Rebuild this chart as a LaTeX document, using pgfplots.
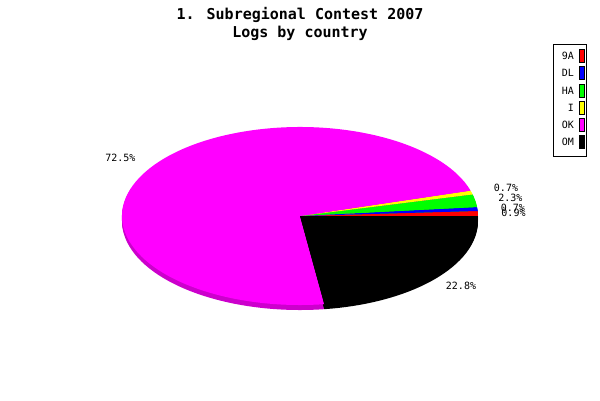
\documentclass[border=0pt]{standalone}
\usepackage{pgfplots}
\pgfplotsset{compat=1.18}
\usepackage{pgfplotstable}
\usepackage{fontspec}
\setmainfont{DejaVu Sans Mono}

\definecolor{c9A}{RGB}{255,0,0}
\definecolor{cDL}{RGB}{0,0,255}
\definecolor{cHA}{RGB}{0,255,0}
\definecolor{cI}{RGB}{255,255,0}
\definecolor{cOK}{RGB}{255,0,255}
\definecolor{cOM}{RGB}{0,0,0}

% logs per country, percent
\pgfplotstableread{
name pct col
9A   0.9  c9A
DL   0.7  cDL
HA   2.3  cHA
I    0.7  cI
OK   72.5 cOK
OM   22.8 cOM
}\logs

\begin{document}
\begin{tikzpicture}
\begin{axis}[
    hide axis,
    scale only axis,
    width=600pt, height=400pt,
    xmin=0, xmax=600, ymin=0, ymax=400,
    y dir=reverse,
    clip=false,
]
    \path (axis cs:0,0) rectangle (axis cs:600,400);
    % title
    \node[font=\bfseries\fontsize{15}{18}\selectfont] at (axis cs:300,15) {1. Subregional Contest 2007};
    \node[font=\bfseries\fontsize{15}{18}\selectfont] at (axis cs:300,33) {Logs by country};

    % shadow of the pie
    \gdef\cum{0}
    \foreach \r in {0,...,5} {
        \pgfplotstablegetelem{\r}{pct}\of\logs \let\p\pgfplotsretval
        \pgfplotstablegetelem{\r}{col}\of\logs \let\col\pgfplotsretval
        \pgfmathsetmacro\sa{\cum/99.9*360}
        \pgfmathsetmacro\sb{(\cum+\p)/99.9*360}
        \foreach \d in {1,...,5} {
            \edef\temp{\noexpand\fill[\col!80!black] (axis cs:300,216) ++(0,-\d pt) -- ++(\sa:178pt and 89pt)
                arc[start angle=\sa, end angle=\sb, x radius=178pt, y radius=89pt] -- cycle;}
            \temp
        }
        \pgfmathsetmacro\nc{\cum+\p}\xdef\cum{\nc}
    }

    % top face, labels and legend
    \gdef\cum{0}
    \foreach \r in {0,...,5} {
        \pgfplotstablegetelem{\r}{pct}\of\logs \let\p\pgfplotsretval
        \pgfplotstablegetelem{\r}{col}\of\logs \let\col\pgfplotsretval
        \pgfplotstablegetelem{\r}{name}\of\logs \let\nm\pgfplotsretval
        \pgfmathsetmacro\sa{\cum/99.9*360}
        \pgfmathsetmacro\sb{(\cum+\p)/99.9*360}
        \pgfmathsetmacro\sm{(\sa+\sb)/2}
        \pgfmathsetmacro\ly{56+17.2*\r}
        \edef\temp{\noexpand\fill[\col] (axis cs:300,216) -- ++(\sa:178pt and 89pt)
            arc[start angle=\sa, end angle=\sb, x radius=178pt, y radius=89pt] -- cycle;
            \noexpand\node[font=\noexpand\fontsize{10}{12}\noexpand\selectfont] at (axis cs:300,216) [shift={(\sm:213.6pt and 106.8pt)}] {\p\noexpand\%};
            \noexpand\node[anchor=east, font=\noexpand\fontsize{10}{12}\noexpand\selectfont, inner sep=0pt] at (axis cs:574,\ly) {\nm};
            \noexpand\filldraw[fill=\col, draw=black, line width=0.6pt] (axis cs:579,\ly-6.5) rectangle (axis cs:584,\ly+6.5);}
        \temp
        \pgfmathsetmacro\nc{\cum+\p}\xdef\cum{\nc}
    }
    \draw[black, line width=1pt] (axis cs:553,44) rectangle (axis cs:586,156);
\end{axis}
\end{tikzpicture}
\end{document}
